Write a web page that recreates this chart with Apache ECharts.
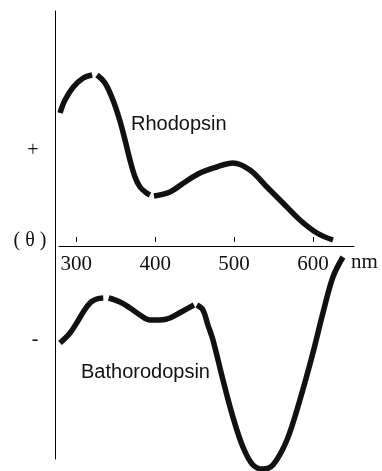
<!DOCTYPE html>
<html>
<head>
<meta charset="utf-8">
<script src="https://cdn.jsdelivr.net/npm/echarts@6/dist/echarts.min.js"></script>
<style>html,body{margin:0;padding:0;background:#fff}#c{width:382px;height:471px}</style>
</head>
<body>
<div id="c"></div>
<script>
// wavelength tick labels (nm)
var xTicks = [300, 400, 500, 600];
// Rhodopsin CD curve, drawn in three pieces (small breaks as in the original)
var rhodopsinA = [[279.3,13.3],[285.6,14.6],[296.2,15.9],[308.8,16.8],[320.0,17.1]];
var rhodopsinB = [[326.2,17.1],[336.3,16.3],[346.4,14.6],[354.9,12.6],[361.7,10.6],[368.0,8.6],[374.4,6.9],[380.7,5.9],[389.1,5.3],[393.3,5.1]];
var rhodopsinC = [[398.4,5.0],[418.7,5.4],[436.0,6.3],[456.7,7.3],[477.9,7.9],[498.5,8.3],[520.1,7.6],[541.6,5.9],[561.9,4.3],[583.4,2.6],[605.0,1.3],[625.3,0.6]];
// Bathorodopsin CD curve, three pieces
var bathoA = [[279.3,-9.7],[292.0,-8.7],[300.4,-7.7],[308.8,-6.6],[317.3,-5.7],[325.8,-5.3],[334.1,-5.2]];
var bathoB = [[341.0,-5.2],[355.3,-5.6],[368.0,-6.2],[380.7,-6.9],[393.3,-7.4],[406.0,-7.4],[418.7,-7.2],[435.2,-6.5],[449.1,-5.9]];
var bathoC = [[452.9,-5.9],[460.5,-6.4],[466.8,-7.9],[473.2,-9.4],[485.9,-13.4],[498.5,-17.1],[511.2,-20.1],[523.9,-21.9],[536.5,-22.3],[549.2,-21.9],[567.0,-19.4],[583.4,-15.4],[599.9,-10.7],[612.6,-6.7],[625.3,-3.1],[638.0,-1.1]];

var X_MIN = 278, X_MAX = 652;
var chart = echarts.init(document.getElementById('c'), null, {renderer: 'canvas'});

function seg(data) {
  return {
    type: 'line', xAxisIndex: 0, yAxisIndex: 0, data: data,
    smooth: 0.35, showSymbol: false, clip: false, silent: true,
    lineStyle: {color: '#111', width: 5.5, cap: 'butt'}
  };
}

var serif = '"Liberation Serif", "Times New Roman", serif';
var sans = '"Liberation Sans", Arial, sans-serif';

chart.setOption({
  animation: false,
  grid: [
    {left: 59, right: 28, top: 11, bottom: 12, containLabel: false, outerBoundsMode: 'none'},
    {left: 59, right: 28, top: 11, bottom: 229, containLabel: false, outerBoundsMode: 'none'}
  ],
  xAxis: [
    {
      type: 'value', gridIndex: 0, min: X_MIN, max: X_MAX,
      axisLine: {show: true, onZero: true, lineStyle: {color: '#000', width: 1}},
      axisTick: {show: false},
      splitLine: {show: false},
      axisLabel: {show: false}
    },
    {
      type: 'value', gridIndex: 1, min: X_MIN, max: X_MAX,
      axisLine: {show: false},
      axisTick: {show: true, inside: true, length: 5, customValues: xTicks, lineStyle: {color: '#000', width: 1}},
      splitLine: {show: false},
      axisLabel: {customValues: xTicks, color: '#111', fontFamily: serif, fontSize: 21, margin: 12}
    }
  ],
  yAxis: [
    {
      type: 'value', gridIndex: 0, min: -21.3, max: 23.5, offset: 4,
      axisLine: {show: true, onZero: false, lineStyle: {color: '#000', width: 1}},
      axisTick: {show: false}, axisLabel: {show: false}, splitLine: {show: false}
    },
    {
      type: 'value', gridIndex: 1, min: 0, max: 1, show: false
    }
  ],
  series: [seg(rhodopsinA), seg(rhodopsinB), seg(rhodopsinC), seg(bathoA), seg(bathoB), seg(bathoC)],
  graphic: [
    {type: 'text', left: 351, top: 252, style: {text: 'nm', font: '21px ' + serif, fill: '#111'}},
    {type: 'text', x: 30, y: 241, style: {text: '( θ )', font: '20px ' + serif, fill: '#111', align: 'center', verticalAlign: 'middle'}},
    {type: 'text', x: 33, y: 151, style: {text: '+', font: '20px ' + serif, fill: '#111', align: 'center', verticalAlign: 'middle'}},
    {type: 'text', x: 35, y: 340, style: {text: '-', font: '20px ' + serif, fill: '#111', align: 'center', verticalAlign: 'middle'}},
    {type: 'text', x: 131, y: 124, style: {text: 'Rhodopsin', font: '20px ' + sans, fill: '#111', align: 'left', verticalAlign: 'middle'}},
    {type: 'text', x: 81, y: 372, style: {text: 'Bathorodopsin', font: '20px ' + sans, fill: '#111', align: 'left', verticalAlign: 'middle'}}
  ]
});
</script>
</body>
</html>
